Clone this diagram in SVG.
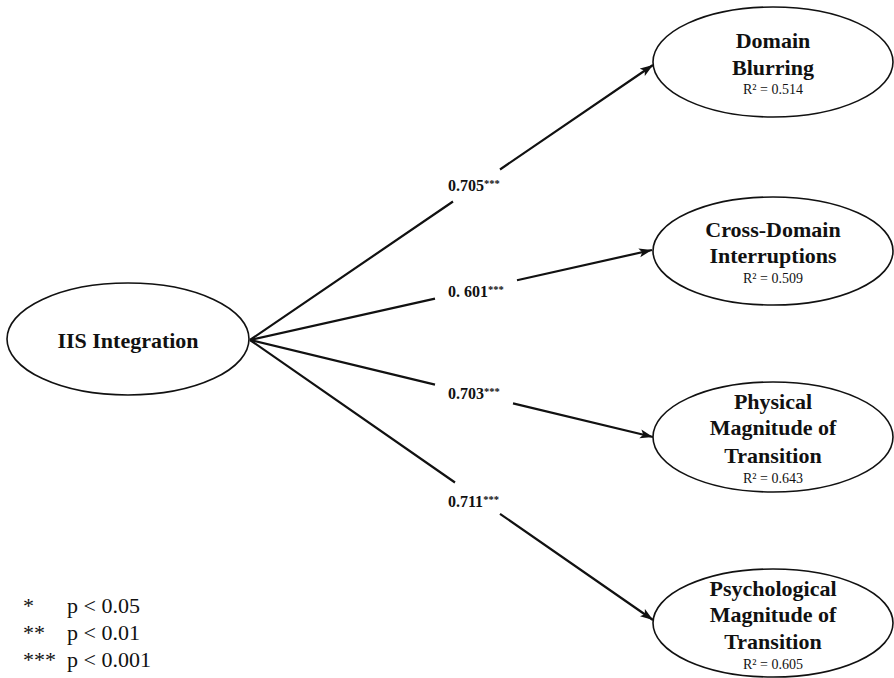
<svg xmlns="http://www.w3.org/2000/svg" width="894" height="678" viewBox="0 0 894 678">
<style>
.node{fill:#fff;stroke:#111;stroke-width:1.6}
.nt{font-family:"Liberation Serif","Times New Roman",serif;font-weight:bold;font-size:22px;fill:#111;text-anchor:middle}
.r2{font-family:"Liberation Serif","Times New Roman",serif;font-size:14px;fill:#111;text-anchor:middle}
.el{font-family:"Liberation Serif","Times New Roman",serif;font-weight:bold;font-size:16px;fill:#111}
.sup{font-size:10.5px}
.edge{fill:none;stroke:#111;stroke-width:2.2}
.lg{font-family:"Liberation Serif","Times New Roman",serif;font-size:22px;fill:#111}
</style>
<defs>
<marker id="arr" markerUnits="userSpaceOnUse" markerWidth="14" markerHeight="10" refX="13" refY="5" orient="auto">
<path d="M0,0.5 L13,5 L0,9.5 L3,5 z" fill="#111"/>
</marker>
</defs>
<rect width="894" height="678" fill="#fff"/>
<g id="connectors">
<path class="edge" d="M250,340 L453,201.5 M500,169.5 L653,65" marker-end="url(#arr)"/>
<path class="edge" d="M250,340 L435,298.6 M517,280.2 L652,250" marker-end="url(#arr)"/>
<path class="edge" d="M250,340 L435,384.6 M513,403.4 L653,437" marker-end="url(#arr)"/>
<path class="edge" d="M250,340 L455,482.5 M500,513.8 L653,620" marker-end="url(#arr)"/>
<text class="el" x="448" y="191">0.705<tspan class="sup" dy="-4">***</tspan></text>
<text class="el" x="448" y="297">0. 601<tspan class="sup" dy="-4">***</tspan></text>
<text class="el" x="448" y="399">0.703<tspan class="sup" dy="-4">***</tspan></text>
<text class="el" x="448" y="507">0.711<tspan class="sup" dy="-4">***</tspan></text>
</g>
<g id="iis">
<ellipse class="node" cx="128" cy="339" rx="121" ry="56"/>
<text class="nt" x="128" y="348">IIS Integration</text>
</g>
<g id="domain-blurring">
<ellipse class="node" cx="773" cy="62" rx="120" ry="55"/>
<text class="nt" x="773" y="48">Domain</text>
<text class="nt" x="773" y="75">Blurring</text>
<text class="r2" x="773" y="94">R² = 0.514</text>
</g>
<g id="cross-domain">
<ellipse class="node" cx="773" cy="251" rx="120" ry="54"/>
<text class="nt" x="773" y="237">Cross-Domain</text>
<text class="nt" x="773" y="263">Interruptions</text>
<text class="r2" x="773" y="283">R² = 0.509</text>
</g>
<g id="physical">
<ellipse class="node" cx="773" cy="437" rx="120" ry="55"/>
<text class="nt" x="773" y="409">Physical</text>
<text class="nt" x="773" y="435">Magnitude of</text>
<text class="nt" x="773" y="463">Transition</text>
<text class="r2" x="773" y="483">R² = 0.643</text>
</g>
<g id="psychological">
<ellipse class="node" cx="773" cy="623" rx="120" ry="54"/>
<text class="nt" x="773" y="596">Psychological</text>
<text class="nt" x="773" y="622">Magnitude of</text>
<text class="nt" x="773" y="649">Transition</text>
<text class="r2" x="773" y="669">R² = 0.605</text>
</g>
<g id="legend">
<text class="lg" x="23" y="613">*</text>
<text class="lg" x="67" y="613">p &lt; 0.05</text>
<text class="lg" x="23" y="640">**</text>
<text class="lg" x="67" y="640">p &lt; 0.01</text>
<text class="lg" x="23" y="667">***</text>
<text class="lg" x="67" y="667">p &lt; 0.001</text>
</g>
</svg>
